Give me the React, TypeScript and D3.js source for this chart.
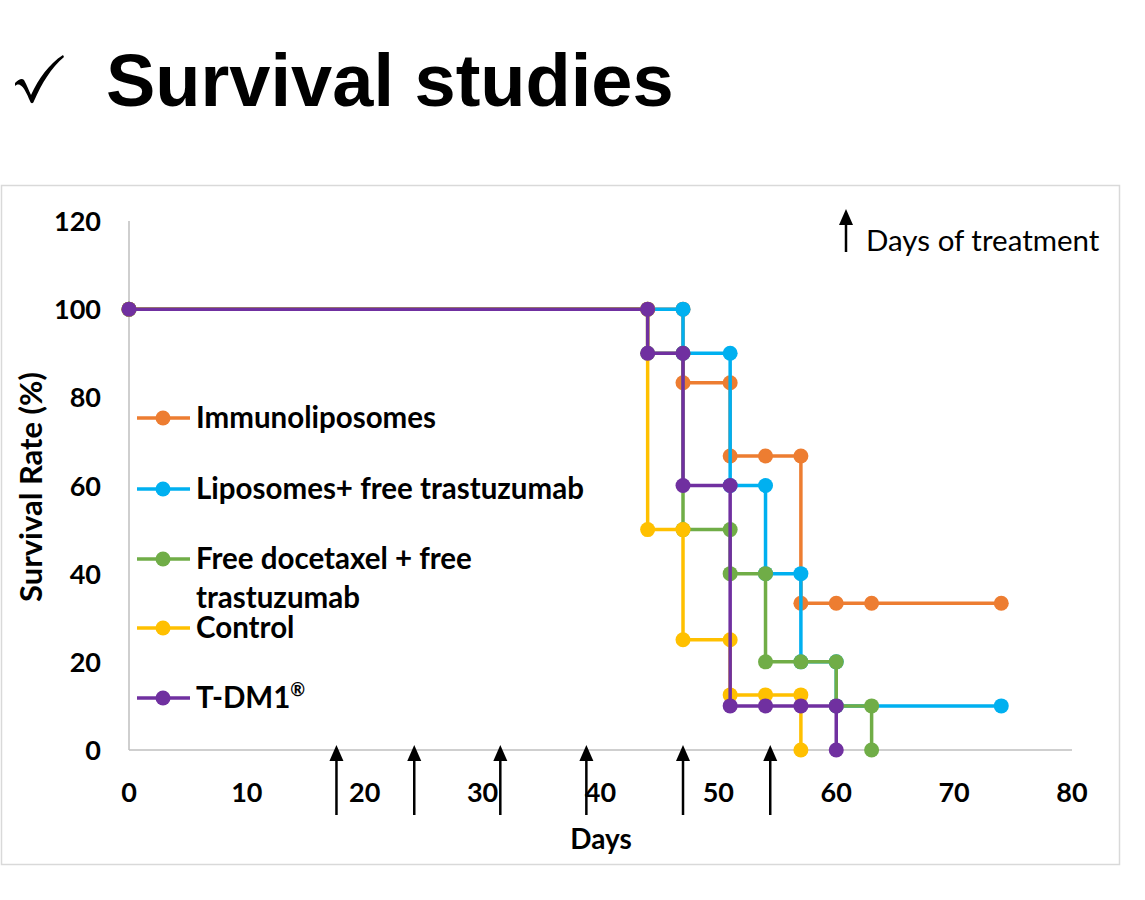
import React from 'react'
import * as d3 from 'd3'

// survival data (day, % surviving)
const immunoDays = [0, 47, 47, 51, 51, 54, 57, 57, 60, 63, 74]
const immunoRate = [100, 100, 83.3, 83.3, 66.7, 66.7, 66.7, 33.3, 33.3, 33.3, 33.3]

const liposDays = [0, 47, 47, 51, 51, 54, 54, 57, 57, 60, 60, 74]
const liposRate = [100, 100, 90, 90, 60, 60, 40, 40, 20, 20, 10, 10]

const freeDays = [0, 44, 44, 47, 47, 51, 51, 54, 54, 57, 60, 60, 63, 63]
const freeRate = [100, 100, 90, 90, 50, 50, 40, 40, 20, 20, 20, 10, 10, 0]

const controlDays = [0, 44, 44, 47, 47, 51, 51, 54, 57, 57]
const controlRate = [100, 100, 50, 50, 25, 25, 12.5, 12.5, 12.5, 0]

const tdm1Days = [0, 44, 44, 47, 47, 51, 51, 54, 57, 60, 60]
const tdm1Rate = [100, 100, 90, 90, 60, 60, 10, 10, 10, 10, 0]

const seriesNames = [
  'Immunoliposomes',
  'Liposomes+ free trastuzumab',
  'Free docetaxel + free trastuzumab',
  'Control',
  'T-DM1®',
]
const seriesColors = ['#ED7D31', '#00B0F0', '#70AD47', '#FFC000', '#7030A0']

const treatmentDays = [17.6, 24.2, 31.5, 38.8, 47, 54.4]
const xTicks = [0, 10, 20, 30, 40, 50, 60, 70, 80]
const yTicks = [0, 20, 40, 60, 80, 100, 120]

const W = 1145
const H = 900
const font = 'Lato, "Open Sans", sans-serif'

function App() {
  const x = d3.scaleLinear().domain([0, 80]).range([129, 1072])
  const y = d3.scaleLinear().domain([0, 120]).range([750, 221])

  const allDays = [immunoDays, liposDays, freeDays, controlDays, tdm1Days]
  const allRates = [immunoRate, liposRate, freeRate, controlRate, tdm1Rate]
  const series = allDays.map((days, i) =>
    days.map((d, j) => ({ day: d, rate: allRates[i][j] }))
  )

  const line = d3
    .line<{ day: number; rate: number }>()
    .x((d) => x(d.day))
    .y((d) => y(d.rate))

  const legendY = [418, 489, 559, 628, 698]

  // small upward arrow
  const arrow = (cx: number, top: number, bottom: number, key: string) => (
    <g key={key}>
      <line x1={cx} x2={cx} y1={top + 10} y2={bottom} stroke="#000" strokeWidth={2.5} />
      <path d={`M${cx},${top} L${cx - 7},${top + 16} L${cx + 7},${top + 16} Z`} fill="#000" />
    </g>
  )

  return (
    <svg width={W} height={H} style={{ position: 'absolute', left: 0, top: 0, background: '#fff' }}>
      {/* title */}
      <path
        d="M15,83 C19,79 22,78 24,80 C27,85 29,91 31,95 C39,78 49,64 63,55 L64,57 C51,68 42,83 34,101 C33,104 31,104 30,101 C27,94 24,87 20,85 C18,84 16,85 15,86 Z"
        fill="#000"
      />
      <text x={106} y={106} fontFamily='"Liberation Sans", Arial, sans-serif' fontWeight="bold" fontSize={74}>
        Survival studies
      </text>

      {/* chart frame */}
      <rect x={1.5} y={185.5} width={1118} height={679} fill="#fff" stroke="#d9d9d9" strokeWidth={1.5} />

      {/* axes */}
      <line x1={x(0)} x2={x(0)} y1={y(120)} y2={y(0)} stroke="#bfbfbf" strokeWidth={1.5} />
      <line x1={x(0)} x2={x(80)} y1={y(0)} y2={y(0)} stroke="#bfbfbf" strokeWidth={1.5} />

      {yTicks.map((t) => (
        <text key={'y' + t} x={101} y={y(t) + 10} textAnchor="end" fontFamily={font} fontWeight="bold" fontSize={27}>
          {t}
        </text>
      ))}
      {xTicks.map((t) => (
        <text key={'x' + t} x={x(t)} y={802} textAnchor="middle" fontFamily={font} fontWeight="bold" fontSize={27}>
          {t}
        </text>
      ))}
      <text x={601} y={849} textAnchor="middle" fontFamily={font} fontWeight="bold" fontSize={28}>
        Days
      </text>
      <text
        transform="translate(42,487) rotate(-90)"
        textAnchor="middle"
        fontFamily={font}
        fontWeight="bold"
        fontSize={31}
      >
        Survival Rate (%)
      </text>

      {/* series */}
      {series.map((pts, i) => (
        <g key={seriesNames[i]}>
          <path d={line(pts) || ''} fill="none" stroke={seriesColors[i]} strokeWidth={3.5} />
          {pts.map((p, j) => (
            <circle key={j} cx={x(p.day)} cy={y(p.rate)} r={7.5} fill={seriesColors[i]} />
          ))}
        </g>
      ))}

      {/* legend */}
      {seriesNames.map((name, i) => (
        <g key={'lg' + name}>
          <line x1={137} x2={190} y1={legendY[i]} y2={legendY[i]} stroke={seriesColors[i]} strokeWidth={3.5} />
          <circle cx={163} cy={legendY[i]} r={7.5} fill={seriesColors[i]} />
          {i === 2 ? (
            <text x={196} y={legendY[i] + 10} fontFamily={font} fontWeight="bold" fontSize={29.5}>
              <tspan x={196}>Free docetaxel + free</tspan>
              <tspan x={196} dy={39}>trastuzumab</tspan>
            </text>
          ) : i === 4 ? (
            <text x={196} y={legendY[i] + 10} fontFamily={font} fontWeight="bold" fontSize={29.5}>
              T-DM1<tspan fontSize={18} dy={-12}>®</tspan>
            </text>
          ) : (
            <text x={196} y={legendY[i] + 10} fontFamily={font} fontWeight="bold" fontSize={29.5}>
              {name}
            </text>
          )}
        </g>
      ))}

      {/* treatment arrows */}
      {treatmentDays.map((d) => arrow(x(d), 745, 815, 'a' + d))}
      {arrow(846, 209, 252, 'key')}
      <text x={866} y={251} fontFamily={font} fontSize={29.5}>
        Days of treatment
      </text>
    </svg>
  )
}

export default App
